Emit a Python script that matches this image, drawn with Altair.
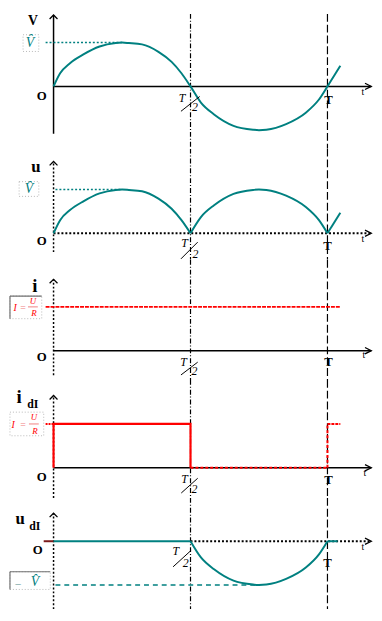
import altair as alt
import pandas as pd

# ---------------- values ----------------
# one period (plus a little) of the supply voltage, t in units of T, v in units of V-hat
CURVE_T = [0.0, 0.024, 0.06, 0.109, 0.168, 0.227, 0.25, 0.275, 0.323, 0.383, 0.431, 0.467, 0.5,
           0.538, 0.586, 0.657, 0.729, 0.75, 0.777, 0.849, 0.921, 0.969, 1.0, 1.047]
CURVE_V = [0.0, 0.30, 0.53, 0.73, 0.91, 0.99, 1.0, 0.99, 0.96, 0.79, 0.56, 0.30, 0.0,
           -0.37, -0.64, -0.90, -0.99, -1.0, -0.99, -0.86, -0.60, -0.30, 0.0, 0.47]
MARK_T = [0.5, 1.0]                 # T/2 and T
V_HAT = 1.0
I_LEVEL = 1.0                       # I = U/R
T_START = -0.029
T_END = 1.047
T_ARROW = 1.16
AXIS_NAMES = ["V", "u", "i", "i", "u"]
AXIS_SUBS = ["", "", "", "dI", "dI"]
Y_AXIS_TOP = [1.63, 1.64, 1.63, 1.65, 0.64]
Y_AXIS_BOT = [-1.08, -0.43, -0.56, -0.69, -1.73]
IDI_T = [0.0, 0.0, 0.5, 0.5]
IDI_V = [0.0, 1.0, 1.0, 0.0]

# ---------------- layout ----------------
W = 370
PXT = 278.4          # pixels per period
X0 = 45.3            # pixel column of t = 0
K = 44.5             # pixels per unit of V-hat
H = [137, 113, 122, 120, 113]
A = [73.7, 86.0, 92.3, 89.3, 44.0]
XDOM = [-X0 / PXT, (W - X0) / PXT]
FONT = "Liberation Serif"
TEAL = "#008080"
RED = "#ff0000"
PINK = "#f08080"
UP = "M -1 1 L 0 0 L 1 1"
RIGHT = "M -2 -1 L 0 0 L -2 1"
VHAT = "V\u0302"


def X(i):
    return alt.X("t:Q", scale=alt.Scale(domain=XDOM, nice=False, zero=False), axis=None)


def Y(i):
    return alt.Y("v:Q", scale=alt.Scale(domain=[-(H[i] - A[i]) / K, A[i] / K], nice=False, zero=False), axis=None)


def seg(i, t0, t1, v0, v1, color="black", width=1.5, dash=None):
    df = pd.DataFrame({"t": [t0], "t2": [t1], "v": [v0], "v2": [v1]})
    kw = dict(color=color, strokeWidth=width, clip=True)
    if dash:
        kw["strokeDash"] = dash
    return alt.Chart(df).mark_rule(**kw).encode(x=X(i), x2="t2:Q", y=Y(i), y2="v2:Q")


def pseg(i, t, v, ox0, oy0, ox1, oy1, color="black", width=1.0):
    # a short stroke placed by pixel offsets around a data anchor
    return seg(i, t + ox0 / PXT, t + ox1 / PXT, v - oy0 / K, v - oy1 / K, color, width)


def curve(i, df, color, width, interp="monotone", detail=None, order=False):
    enc = dict(x=X(i), y=Y(i))
    if detail:
        enc["detail"] = f"{detail}:N"
    if order:
        enc["order"] = alt.Order("k:Q")
    return alt.Chart(df).mark_line(color=color, strokeWidth=width, interpolate=interp, clip=True).encode(**enc)


def txt(i, t, v, s, dx, dy, size=13, color="black", weight="normal", style="normal"):
    df = pd.DataFrame({"t": [t], "v": [v], "s": [s]})
    kw = dict(dx=dx, dy=dy, fontSize=size, color=color, fontWeight=weight, fontStyle=style,
              font=FONT, align="center", baseline="middle", clip=True)
    return alt.Chart(df).mark_text(**kw).encode(x=X(i), y=Y(i), text="s:N")


def arrow(i, t, v, shape, size):
    df = pd.DataFrame({"t": [t], "v": [v]})
    return alt.Chart(df).mark_point(shape=shape, size=size, filled=False, color="black",
                                    strokeWidth=1.3, opacity=1, clip=True).encode(x=X(i), y=Y(i))


def box(i, t, v, px0, px1, py0, py1, dark=False):
    t0, t1 = t + px0 / PXT, t + px1 / PXT
    vt, vb = v - py0 / K, v - py1 / K
    df = pd.DataFrame({"t": [t0], "t2": [t1], "v": [vt], "v2": [vb]})
    out = [alt.Chart(df).mark_rect(fillOpacity=0, stroke="#b8b8b8", strokeDash=[1, 2], strokeWidth=1, clip=True)
           .encode(x=X(i), x2="t2:Q", y=Y(i), y2="v2:Q")]
    if dark:
        out.append(seg(i, t0, t1, vt, vt, "#707070", 1.2))
        out.append(seg(i, t0, t0, vt, vb, "#707070", 1.2))
    return out


def vlines(i):
    out = []
    for tm, dash in zip(MARK_T, [[5, 2, 1, 2], [8, 3]]):
        df = pd.DataFrame({"t": [tm]})
        out.append(alt.Chart(df).mark_rule(color="black", strokeWidth=1.2, strokeDash=dash, clip=True)
                   .encode(x=X(i), y=alt.value(0), y2=alt.value(H[i])))
    return out


def tlabels(i, tpos, slash, twopos, full, small):
    return [
        txt(i, MARK_T[0], 0, "T", tpos[0], tpos[1], 12, style="italic"),
        pseg(i, MARK_T[0], 0, *slash),
        txt(i, MARK_T[0], 0, "2", twopos[0], twopos[1], 12, style="italic"),
        txt(i, MARK_T[1], 0, "T", full[0], full[1], 13, weight="bold"),
        txt(i, MARK_T[1], 0, "t", small[0], small[1], 10),
    ]


def formula(i, t, v, dxI, dxEq, dxF, dyU, dyR):
    return [
        txt(i, t, v, "I", dxI, 1, 10, RED, style="italic"),
        txt(i, t, v, "=", dxEq, 1, 10, PINK),
        txt(i, t, v, "U", dxF, dyU, 9, RED, style="italic"),
        pseg(i, t, v, dxF - 5, 0, dxF + 5, 0, PINK, 1),
        txt(i, t, v, "R", dxF + 1, dyR, 9, RED, style="italic"),
    ]


curve_df = pd.DataFrame({"t": CURVE_T, "v": CURVE_V})

rows = []
for k, (a, b) in enumerate([(0.0, 0.5), (0.5, 1.0), (1.0, T_END)]):
    for t, v in zip(CURVE_T, CURVE_V):
        if a <= t <= b:
            rows.append({"t": t, "v": abs(v), "arc": k})
rect_df = pd.DataFrame(rows)
neg_df = pd.DataFrame([{"t": t, "v": v} for t, v in zip(CURVE_T, CURVE_V) if 0.5 <= t <= 1.0])
idi_df = pd.DataFrame({"t": IDI_T, "v": IDI_V, "k": list(range(len(IDI_T)))})

DOT = [2, 2]

# ---- panel 1: supply voltage ----
p1 = vlines(0) + [
    seg(0, 0, 0, Y_AXIS_BOT[0], Y_AXIS_TOP[0]),
    seg(0, 0, T_ARROW, 0, 0),
    arrow(0, 0, Y_AXIS_TOP[0], UP, 64),
    arrow(0, T_ARROW, 0, RIGHT, 41),
    seg(0, T_START, 0.25, V_HAT, V_HAT, TEAL, 1.5, DOT),
    curve(0, curve_df, TEAL, 2),
] + box(0, 0, V_HAT, -31, -15, -8, 9) + [
    txt(0, 0, V_HAT, VHAT, -24, 0, 14, TEAL, style="italic"),
    txt(0, 0, 0, AXIS_NAMES[0], -21, -66, 14, weight="bold"),
    txt(0, 0, 0, "O", -12, 10, 13, weight="bold"),
] + tlabels(0, (-8.5, 12), (-9.7, 25.3, 9.3, 10.3), (4.5, 21), (1, 14), (36, 6))

# ---- panel 2: rectified voltage ----
p2 = vlines(1) + [
    seg(1, 0, 0, Y_AXIS_BOT[1], Y_AXIS_TOP[1], "black", 1.5, DOT),
    seg(1, 0, T_ARROW, 0, 0, "black", 2, DOT),
    arrow(1, 0, Y_AXIS_TOP[1], UP, 64),
    arrow(1, T_ARROW, 0, RIGHT, 41),
    seg(1, 0.007, 0.25, V_HAT, V_HAT, TEAL, 1.5, DOT),
    curve(1, rect_df, TEAL, 2, detail="arc"),
] + box(1, 0, V_HAT, -35, -15, -8, 7) + [
    txt(1, 0, V_HAT, VHAT, -25, 0, 14, TEAL, style="italic"),
    txt(1, 0, 0, AXIS_NAMES[1], -18, -67, 17, weight="bold"),
    txt(1, 0, 0, "O", -12, 8, 13, weight="bold"),
] + tlabels(1, (-6, 10), (-9.7, 26, 7.3, 9), (5, 21), (0, 13), (36, 6))

# ---- panel 3: load current ----
p3 = vlines(2) + [
    seg(2, 0, 0, Y_AXIS_BOT[2], Y_AXIS_TOP[2], "black", 1.5, DOT),
    seg(2, 0, T_ARROW, 0, 0),
    arrow(2, 0, Y_AXIS_TOP[2], UP, 64),
    arrow(2, T_ARROW, 0, RIGHT, 41),
    seg(2, T_START, T_END, I_LEVEL, I_LEVEL, RED, 2, [4, 1]),
] + box(2, 0, I_LEVEL, -44.3, -12, -11, 12, dark=True) + formula(2, 0, I_LEVEL, -39, -31, -21, -6, 6) + [
    txt(2, 0, 0, AXIS_NAMES[2], -19, -66, 19, weight="bold"),
    txt(2, 0, 0, "O", -12, 7, 13, weight="bold"),
] + tlabels(2, (-7, 12), (-9.7, 24.7, 7.3, 11.7), (4, 21), (1, 12), (37, 4))

# ---- panel 4: diode current ----
p4 = vlines(3) + [
    seg(3, 0, 0, Y_AXIS_BOT[3], Y_AXIS_TOP[3], "black", 1.5, DOT),
    seg(3, 0, T_ARROW, 0, 0),
    arrow(3, 0, Y_AXIS_TOP[3], UP, 64),
    arrow(3, T_ARROW, 0, RIGHT, 41),
    seg(3, T_START, 0, I_LEVEL, I_LEVEL, RED, 2, [2, 1]),
    curve(3, idi_df, RED, 2.2, interp="linear", order=True),
    seg(3, MARK_T[0], MARK_T[1], 0, 0, RED, 2, [3, 2]),
    seg(3, MARK_T[1], MARK_T[1], 0, I_LEVEL, RED, 2, [3, 2]),
    seg(3, MARK_T[1], T_END, I_LEVEL, I_LEVEL, RED, 2, [3, 1]),
] + box(3, 0, I_LEVEL, -44.3, -10, -12, 12) + formula(3, 0, I_LEVEL, -41, -31, -20, -7, 7) + [
    txt(3, 0, 0, AXIS_NAMES[3], -35, -72, 19, weight="bold"),
    txt(3, 0, 0, AXIS_SUBS[3], -21, -65, 12, weight="bold"),
    txt(3, 0, 0, "O", -12, 9, 13, weight="bold"),
] + tlabels(3, (-6, 12), (-9.4, 25.7, 7.3, 10.7), (4, 22), (1, 13), (38, 5))

# ---- panel 5: diode voltage ----
p5 = vlines(4) + [
    seg(4, 0, 0, Y_AXIS_BOT[4], Y_AXIS_TOP[4], "black", 1.5, DOT),
    seg(4, MARK_T[0], T_ARROW, 0, 0, "black", 2, DOT),
    arrow(4, 0, Y_AXIS_TOP[4], UP, 64),
    arrow(4, T_ARROW, 0, RIGHT, 41),
    seg(4, -0.036, 0, 0, 0, "#7a1a1a", 2),
    seg(4, 0, MARK_T[0], 0, 0, TEAL, 2),
    seg(4, MARK_T[1], 1.037, 0, 0, TEAL, 2),
    seg(4, 0.007, 0.75, -V_HAT, -V_HAT, TEAL, 1.5, [5, 4]),
    curve(4, neg_df, TEAL, 2),
] + box(4, 0, -V_HAT, -44.3, -3.3, -13.5, 4.5, dark=True) + [
    txt(4, 0, -V_HAT, "\u2212", -36, -1, 12, "#6a9a9a"),
    txt(4, 0, -V_HAT, VHAT, -19, -3, 14, TEAL, style="italic"),
    txt(4, 0, 0, AXIS_NAMES[4], -34, -23, 17, weight="bold"),
    txt(4, 0, 0, AXIS_SUBS[4], -19, -15, 12, weight="bold"),
    txt(4, 0, 0, "O", -16, 9, 13, weight="bold"),
] + tlabels(4, (-15, 10), (-17.7, 26, 0.6, 9.3), (-5, 22), (0, 22), (36, 6))

panels = [alt.layer(*ls).properties(width=W, height=H[i]) for i, ls in enumerate([p1, p2, p3, p4, p5])]

chart = (
    alt.vconcat(*panels, spacing=0, bounds="flush")
    .properties(padding=0, background="white")
    .configure_view(stroke="transparent")
)

chart.save("out.html", embed_options={"renderer": "svg", "actions": False})
